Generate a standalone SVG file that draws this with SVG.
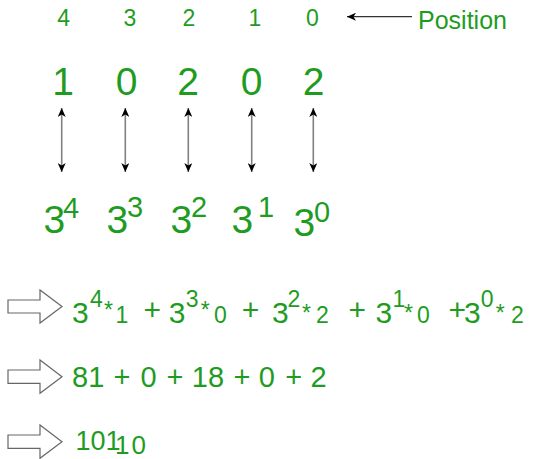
<svg xmlns="http://www.w3.org/2000/svg" width="538" height="459" viewBox="0 0 538 459">
<defs>
<style>
text{font-family:"Liberation Sans",Arial,sans-serif;fill:#1f9c1f}
.pos{font-size:23px;text-anchor:middle}
.big{font-size:39px;text-anchor:middle}
.b3{font-size:39px}
.s3{font-size:29px}
.e{font-size:30px}
.es{font-size:23px}
.l5{font-size:29px}
.shaft{stroke:#808080;stroke-width:1.6;fill:none}
.hollow{fill:#fff;stroke:#666;stroke-width:1.2}
</style>
<marker id="ah" viewBox="0 0 9 8" refX="9" refY="4" markerWidth="9" markerHeight="8" markerUnits="userSpaceOnUse" orient="auto-start-reverse">
<path d="M0,0 L9,4 L0,8 L2.5,4 z" fill="#000"/>
</marker>
</defs>
<rect width="538" height="459" fill="#fff"/>

<g id="positions">
<text class="pos" x="63.7" y="26">4</text>
<text class="pos" x="130" y="26">3</text>
<text class="pos" x="189" y="26">2</text>
<text class="pos" x="254.8" y="26">1</text>
<text class="pos" x="312.5" y="26">0</text>
</g>
<g id="position-label">
<text x="418" y="29" style="font-size:25px">Position</text>
</g>

<g id="digits">
<text class="big" x="63" y="95">1</text>
<text class="big" x="126.7" y="95">0</text>
<text class="big" x="188" y="95">2</text>
<text class="big" x="251.7" y="95">0</text>
<text class="big" x="313.5" y="95">2</text>
</g>

<g id="powers">
<text class="b3" x="43.5" y="233">3<tspan class="s3" x="63" y="218">4</tspan></text>
<text class="b3" x="106.5" y="233">3<tspan class="s3" x="127" y="217">3</tspan></text>
<text class="b3" x="170.5" y="233">3<tspan class="s3" x="191" y="217">2</tspan></text>
<text class="b3" x="231.5" y="233">3<tspan class="s3" x="258" y="217">1</tspan></text>
<text class="b3" x="293.5" y="236">3<tspan class="s3" x="314" y="222">0</tspan></text>
</g>

<g id="connectors">
<line x1="412" y1="16.7" x2="347" y2="16.7" stroke="#333" stroke-width="1.2" marker-end="url(#ah)"/>
<line class="shaft" x1="61.7" y1="108" x2="61.7" y2="172" marker-start="url(#ah)" marker-end="url(#ah)"/>
<line class="shaft" x1="125.3" y1="108" x2="125.3" y2="172" marker-start="url(#ah)" marker-end="url(#ah)"/>
<line class="shaft" x1="188.3" y1="108" x2="188.3" y2="172" marker-start="url(#ah)" marker-end="url(#ah)"/>
<line class="shaft" x1="251.7" y1="108" x2="251.7" y2="172" marker-start="url(#ah)" marker-end="url(#ah)"/>
<line class="shaft" x1="313.3" y1="108" x2="313.3" y2="172" marker-start="url(#ah)" marker-end="url(#ah)"/>
<polygon class="hollow" points="8,300 40,300 40,290 62,306.5 40,323 40,313 8,313"/>
<polygon class="hollow" points="8,370 40,370 40,360 62,376.7 40,393.3 40,383.3 8,383.3"/>
<polygon class="hollow" points="8,435 40,435 40,425 62,441.7 40,458.3 40,448.3 8,448.3"/>
</g>

<g id="expansion">
<text class="e" x="72" y="323">3<tspan class="es" x="90" y="307">4</tspan><tspan class="es" x="104" y="318">*</tspan><tspan class="es" x="115.5" y="323">1</tspan><tspan x="143.5" y="320">+</tspan><tspan x="168.8" y="323">3</tspan><tspan class="es" x="185.7" y="307">3</tspan><tspan class="es" x="200.7" y="318">*</tspan><tspan class="es" x="214" y="323">0</tspan><tspan x="241.8" y="320">+</tspan><tspan x="272" y="323">3</tspan><tspan class="es" x="287.5" y="307">2</tspan><tspan class="es" x="302" y="321">*</tspan><tspan class="es" x="316" y="323">2</tspan><tspan x="348.5" y="320">+</tspan><tspan x="375.5" y="323">3</tspan><tspan class="es" x="392.5" y="307">1</tspan><tspan class="es" x="404" y="321">*</tspan><tspan class="es" x="417" y="323">0</tspan><tspan x="448.5" y="320">+</tspan><tspan x="464" y="323">3</tspan><tspan class="es" x="480.7" y="307">0</tspan><tspan class="es" x="495.7" y="321">*</tspan><tspan class="es" x="511" y="323">2</tspan></text>
</g>

<g id="sum">
<text class="l5" y="387"><tspan x="72">81</tspan><tspan x="113.5">+</tspan><tspan x="140.5">0</tspan><tspan x="166.5">+</tspan><tspan x="191.8">18</tspan><tspan x="233.5">+</tspan><tspan x="258.8">0</tspan><tspan x="285.2">+</tspan><tspan x="310.5">2</tspan></text>
</g>

<g id="result">
<text x="75.4" y="450" style="font-size:27px">101<tspan x="115" y="454" style="font-size:26px;letter-spacing:2px">10</tspan></text>
</g>
</svg>
